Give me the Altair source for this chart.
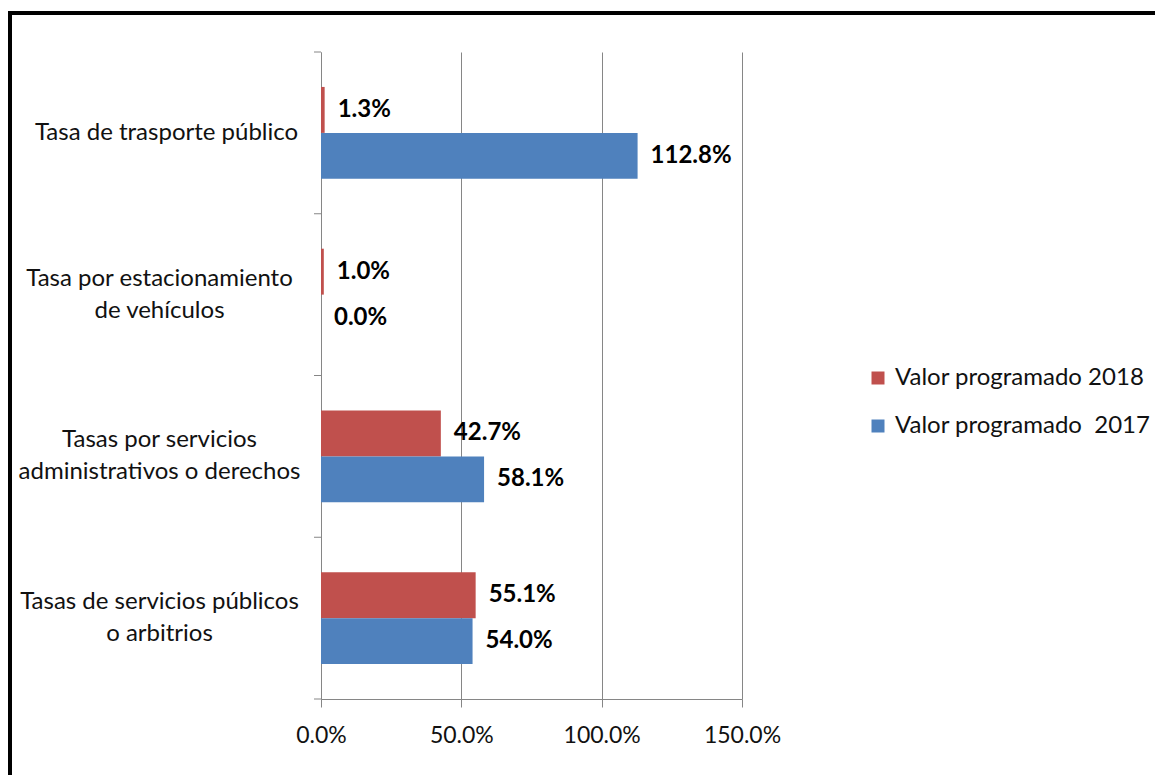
import altair as alt
import pandas as pd

categories = [
    "Tasa de trasporte público",
    "Tasa por estacionamiento|de vehículos",
    "Tasas por servicios|administrativos o derechos",
    "Tasas de servicios públicos|o arbitrios",
]
series = ["Valor programado 2018", "Valor programado\u00a0 2017"]
values_2018 = [0.013, 0.010, 0.427, 0.551]
values_2017 = [1.128, 0.000, 0.581, 0.540]
colors = ["#C0504D", "#4F81BD"]
x_ticks = [0, 0.5, 1.0, 1.5]

rows = []
for c, a, b in zip(categories, values_2018, values_2017):
    rows.append({"cat": c, "serie": series[0], "val": a})
    rows.append({"cat": c, "serie": series[1], "val": b})
df = pd.DataFrame(rows)
cat_df = pd.DataFrame({"cat": categories})

FONT = "Lato"
GRAY = "#868686"
W, H = 421, 647
P_IN, P_OUT = 0.432, 0.216
GAP = P_IN * (H / len(categories)) / 2  # pixels between a band and its step boundary

y_scale = alt.Scale(paddingInner=P_IN, paddingOuter=P_OUT)
multi = "indexof(datum.value, '|') >= 0"

y_enc = alt.Y(
    "cat:N",
    sort=categories,
    title=None,
    scale=y_scale,
    axis=alt.Axis(
        labelExpr="split(datum.label, '|')",
        labelAlign="center",
        labelBaseline="middle",
        labelPadding={"condition": {"test": multi, "value": 162}, "value": 155},
        labelFontSize=24,
        labelFont=FONT,
        labelColor="#111111",
        labelLineHeight=32,
        labelLimit=500,
        labelOffset={"condition": {"test": multi, "value": -16}, "value": 0},
        ticks=False,
        domainColor=GRAY,
        grid=False,
    ),
)
x_enc = alt.X(
    "val:Q",
    scale=alt.Scale(domain=[0, 1.5], nice=False),
    axis=alt.Axis(
        values=x_ticks,
        format=".1%",
        grid=True,
        gridColor=GRAY,
        tickSize=8,
        tickColor=GRAY,
        domainColor=GRAY,
        labelPadding=17,
        labelFlush=False,
        labelFontSize=23,
        labelFont=FONT,
        labelColor="#111111",
        title=None,
    ),
)
yoff = alt.YOffset("serie:N", sort=series, scale=alt.Scale(domain=series, paddingInner=0, paddingOuter=0))

base = alt.Chart(df)

bars = base.mark_bar().encode(
    x=x_enc,
    y=y_enc,
    yOffset=yoff,
    color=alt.Color(
        "serie:N",
        scale=alt.Scale(domain=series, range=colors),
        title=None,
        legend=alt.Legend(
            orient="none",
            legendX=545,
            legendY=314,
            symbolType="square",
            symbolSize=169,
            symbolStrokeWidth=0,
            labelFontSize=24,
            labelFont=FONT,
            labelColor="#111111",
            labelOffset=5,
            rowPadding=24,
            labelLimit=400,
        ),
    ),
)

labels = base.mark_text(
    align="left", baseline="middle", dx=13, fontWeight="bold", fontSize=24, font=FONT, color="#000000"
).encode(
    x=alt.X("val:Q"),
    y=alt.Y("cat:N", sort=categories),
    yOffset=yoff,
    text=alt.Text("val:Q", format=".1%"),
)

# category tick marks at the step boundaries
ticks_top = alt.Chart(cat_df).mark_rule(color=GRAY, strokeWidth=1, yOffset=-GAP).encode(
    y=alt.Y("cat:N", sort=categories, bandPosition=0),
    x=alt.value(-7),
    x2=alt.value(0),
)
ticks_end = alt.Chart(cat_df.tail(1)).mark_rule(color=GRAY, strokeWidth=1, yOffset=GAP).encode(
    y=alt.Y("cat:N", sort=categories, bandPosition=1),
    x=alt.value(-7),
    x2=alt.value(0),
)

frame = alt.Chart(alt.Data(values=[{"a": 1}])).mark_rect(
    fillOpacity=0, stroke="black", strokeWidth=4
).encode(
    x=alt.value(-311), x2=alt.value(1000), y=alt.value(-39), y2=alt.value(900)
)

chart = alt.layer(frame, bars, labels, ticks_top, ticks_end).properties(
    width=W,
    height=H,
    autosize=alt.AutoSizeParams(type="none"),
    padding={"left": 313, "top": 44, "right": 413, "bottom": 76},
).configure_view(strokeWidth=0)

chart.save("out.html", embed_options={"renderer": "svg", "actions": False})
